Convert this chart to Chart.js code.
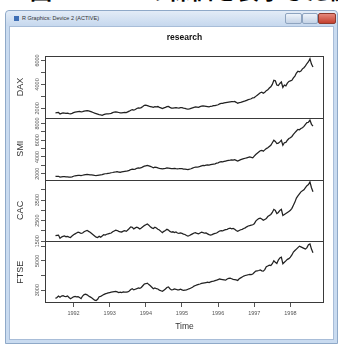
<!DOCTYPE html>
<html>
<head>
<meta charset="utf-8">
<script src="https://cdn.jsdelivr.net/npm/chart.js@4"></script>
<style>
  html, body { margin: 0; padding: 0; background: #fff; }
  body { width: 338px; height: 344px; position: relative; overflow: hidden; font-family: "Liberation Sans", Arial, sans-serif; }
  #caption { position: absolute; left: 30px; top: -27px; font: bold 22px "Noto Sans CJK JP", sans-serif; white-space: nowrap; color: #000; letter-spacing: 1px; }
  #win { position: absolute; left: 5px; top: 10px; width: 333px; height: 334px; box-sizing: border-box;
         background: #c9dbf0; border: 1px solid #8fa9c8; border-radius: 4px 4px 0 0; }
  #bar { position: absolute; left: 0; top: 0; right: 0; height: 15px; background: linear-gradient(#e3ecf7, #c6d8ee); border-radius: 4px 4px 0 0; }
  #ico { position: absolute; left: 8px; top: 5px; width: 5px; height: 5px; background: #3f6fb5; }
  #wtitle { position: absolute; left: 16px; top: 4px; font-size: 5.5px; color: #333; white-space: nowrap; }
  .btn { position: absolute; top: 2px; height: 9px; border: 1px solid #8ea4c0; border-radius: 2px; background: linear-gradient(#eef3fa, #c4d3e6); }
  #bmin { left: 279px; width: 15px; }
  #bmax { left: 296px; width: 14px; }
  #bclose { left: 312px; width: 16px; background: linear-gradient(#e5887c, #c4402f); border-color: #8d3a2e; }
  #client { position: absolute; left: 3px; top: 15px; right: 3px; bottom: 3px; background: #fff; border: 1px solid #a8bdd8; }
  #c { position: absolute; left: 0; top: 0; }
</style>
</head>
<body>
<div id="caption">図３　４つの株価を表示した例</div>
<div id="win">
  <div id="bar"><span id="ico"></span><span id="wtitle">R Graphics: Device 2 (ACTIVE)</span>
    <span class="btn" id="bmin"></span><span class="btn" id="bmax"></span><span class="btn" id="bclose"></span></div>
  <div id="client"></div>
</div>
<canvas id="c" width="338" height="344"></canvas>
<script>
// EuStockMarkets at about two points per month (Jul 1991 - Aug 1998)
const START = 1991.5;
const FREQ = 24;
const PANELS = ['DAX', 'SMI', 'CAC', 'FTSE'];
const TITLE = 'research';
const XLAB = 'Time';
const YEARS = [1992, 1993, 1994, 1995, 1996, 1997, 1998];

const DAX = [
  1628,1640,1650,1520,1580,1610,1600,1570,1590,1560,1540,1580,
  1640,1680,1700,1720,1740,1710,1720,1760,1790,1810,1780,1740,1700,1650,1600,1560,1520,1480,1450,1420,1470,1510,1530,1545,
  1560,1580,1640,1690,1700,1680,1650,1620,1610,1640,1660,1640,1700,1760,1840,1880,1850,1900,1980,2040,2020,2060,2150,2250,
  2260,2220,2180,2150,2120,2080,2140,2120,2150,2080,2040,1980,2040,2080,2140,2160,2080,2020,2010,2040,2060,2030,2020,2060,
  2050,2010,2000,1960,1930,1960,2000,2040,2080,2110,2100,2080,2140,2180,2200,2190,2170,2150,2120,2170,2190,2230,2230,2260,
  2300,2370,2420,2410,2450,2480,2500,2520,2540,2560,2550,2570,2500,2420,2470,2500,2540,2580,2620,2670,2720,2760,2800,2880,
  2900,3000,3100,3200,3300,3350,3260,3350,3480,3550,3700,3800,4000,4350,4300,3950,3900,4080,4200,3750,3950,3880,4100,4250,
  4300,4350,4550,4700,4950,5100,5050,5120,5300,5400,5550,5750,5900,6150,5700,5450
];
const SMI = [
  1678,1690,1700,1600,1640,1660,1650,1620,1640,1610,1590,1620,
  1700,1760,1790,1810,1800,1780,1820,1860,1900,1920,1900,1880,1860,1830,1800,1780,1820,1850,1870,1890,1950,2000,2020,2050,
  2080,2120,2150,2200,2220,2250,2200,2180,2230,2260,2280,2300,2350,2400,2500,2550,2520,2560,2650,2700,2680,2720,2820,2900,
  2950,3000,2950,2880,2800,2720,2780,2760,2700,2650,2620,2580,2620,2650,2700,2680,2640,2600,2620,2640,2610,2590,2600,2620,
  2600,2560,2540,2520,2500,2540,2600,2680,2750,2800,2780,2820,2880,2950,3000,2980,3020,3060,3030,3080,3120,3150,3180,3260,
  3300,3400,3450,3420,3480,3520,3560,3600,3620,3650,3620,3680,3600,3520,3600,3680,3750,3800,3850,3900,3950,4000,3950,3900,
  4100,4300,4450,4600,4750,4800,4700,4850,5000,5100,5250,5400,5700,6000,5850,5600,5650,5800,6000,5400,5700,5750,6000,6200,
  6300,6450,6700,6900,7100,7300,7250,7400,7500,7650,7900,8100,8150,8400,7900,7700
];
const CAC = [
  1773,1790,1800,1640,1700,1740,1760,1720,1740,1700,1680,1760,
  1820,1860,1900,1940,1920,1880,1900,1960,2000,2030,1980,1940,1880,1820,1760,1700,1680,1740,1700,1760,1820,1800,1840,1860,
  1880,1900,1960,2000,2040,2020,1980,1960,1950,1990,2010,1980,2050,2120,2200,2180,2100,2150,2180,2150,2100,2140,2200,2260,
  2300,2340,2280,2200,2150,2120,2180,2140,2080,2050,1980,1920,1980,2020,2080,2040,1980,1940,1960,1920,1950,1900,1880,1900,
  1880,1850,1830,1780,1750,1780,1820,1860,1900,1920,1880,1860,1900,1940,1920,1890,1900,1860,1820,1800,1820,1860,1880,1900,
  1950,2000,2020,2000,2040,2060,2080,2120,2140,2100,2120,2080,2020,1980,2020,2060,2080,2120,2150,2200,2240,2260,2280,2300,
  2350,2480,2550,2600,2620,2580,2520,2560,2600,2700,2750,2800,2900,3050,3000,2850,2900,3000,3050,2750,2800,2850,2900,2950,
  3000,3100,3250,3400,3600,3700,3800,3900,3950,4000,4100,4200,4250,4380,4100,3900
];
const FTSE = [
  2443,2500,2600,2520,2600,2620,2580,2560,2600,2500,2420,2480,
  2550,2570,2540,2560,2500,2420,2600,2700,2720,2680,2600,2540,2480,2400,2320,2290,2380,2550,2580,2640,2700,2750,2780,2820,
  2840,2860,2880,2900,2920,2880,2840,2860,2840,2880,2870,2860,2880,2940,3040,3100,3020,3060,3100,3150,3120,3180,3300,3420,
  3440,3480,3380,3300,3200,3100,3150,3100,3080,3000,2960,2920,3000,3080,3180,3220,3100,3020,3040,3080,3060,3020,3020,3060,
  3020,2980,3000,3020,3060,3100,3150,3200,3280,3320,3360,3400,3420,3460,3480,3500,3520,3540,3520,3560,3600,3620,3650,3680,
  3720,3760,3740,3720,3700,3680,3760,3800,3820,3780,3740,3720,3700,3660,3780,3840,3900,3960,4000,4020,4050,4080,4060,4100,
  4200,4300,4320,4340,4380,4320,4300,4400,4600,4650,4700,4680,4800,5000,4900,4820,5050,5200,5250,4800,4900,5000,5100,5150,
  5250,5400,5600,5700,5800,5900,6000,5950,5900,5850,5800,5900,6100,6150,5800,5550
];

// axis limits (R pads the data range by 4%) and tick marks
const X_RANGE = [1991.21, 1998.93];
const Y_RANGES = [[1211, 6377], [1314, 8685], [1500, 4499], [2125, 6335]];
const Y_TICKS = [
  [2000, 3000, 4000, 5000, 6000],
  [2000, 3000, 4000, 5000, 6000, 7000, 8000],
  [1500, 2000, 2500, 3000, 3500, 4000],
  [3000, 4000, 5000, 6000]
];
const Y_LABELS = [
  [2000, 4000, 6000],
  [2000, 4000, 6000, 8000],
  [1500, 2500, 3500],
  [3000, 5000]
];
const SERIES = [DAX, SMI, CAC, FTSE];

const FONT = '"Liberation Sans", Arial, sans-serif';
const INK = '#222';
const GREY = '#555';

const toPoints = vals => vals.map((v, i) => ({ x: START + i / FREQ, y: v }));

const datasets = SERIES.map((vals, i) => ({
  label: PANELS[i],
  data: toPoints(vals),
  yAxisID: 'y' + i,
  borderColor: INK,
  borderWidth: 1.25,
  pointRadius: 0,
  tension: 0,
  fill: false
}));

const scales = {
  x: {
    type: 'linear', position: 'bottom', min: X_RANGE[0], max: X_RANGE[1],
    afterBuildTicks: s => { s.ticks = YEARS.map(v => ({ value: v })); },
    ticks: { display: false },
    grid: { display: true, drawOnChartArea: false, drawTicks: true, tickLength: 4, color: GREY },
    border: { display: false }
  }
};
PANELS.forEach((name, i) => {
  scales['y' + i] = {
    type: 'linear', position: 'left', stack: 'panels', stackWeight: 1, weight: PANELS.length - i,
    min: Y_RANGES[i][0], max: Y_RANGES[i][1],
    afterBuildTicks: s => { s.ticks = Y_TICKS[i].map(v => ({ value: v })); },
    ticks: { display: false },
    grid: { display: true, drawOnChartArea: false, drawTicks: true, tickLength: 4, color: GREY },
    border: { display: false }
  };
});

// box, panel separators and all the R-style text
const rFrame = {
  id: 'rFrame',
  afterDraw(chart) {
    const { ctx, chartArea: a } = chart;
    const rot = (txt, x, y, font, color) => {
      ctx.save();
      ctx.translate(x, y);
      ctx.rotate(-Math.PI / 2);
      ctx.font = font; ctx.fillStyle = color;
      ctx.textAlign = 'center'; ctx.textBaseline = 'middle';
      ctx.fillText(txt, 0, 0);
      ctx.restore();
    };
    ctx.save();
    ctx.strokeStyle = '#3a3a3a';
    ctx.lineWidth = 1;
    ctx.strokeRect(Math.round(a.left) + .5, Math.round(a.top) + .5, Math.round(a.width) - 1, Math.round(a.height) - 1);
    PANELS.forEach((name, i) => {
      const s = chart.scales['y' + i];
      if (i < PANELS.length - 1) {
        const yb = Math.round(s.bottom) + .5;
        ctx.beginPath(); ctx.moveTo(a.left, yb); ctx.lineTo(a.right, yb); ctx.stroke();
      }
      Y_LABELS[i].forEach(v => rot(String(v), 37, s.getPixelForValue(v), '5.5px ' + FONT, GREY));
      rot(name, 21, (s.top + s.bottom) / 2, '9px ' + FONT, '#333');
    });
    const x = chart.scales.x;
    ctx.font = '5.5px ' + FONT; ctx.fillStyle = GREY;
    ctx.textAlign = 'center'; ctx.textBaseline = 'middle';
    YEARS.forEach(v => ctx.fillText(String(v), x.getPixelForValue(v), 313));
    const mid = (a.left + a.right) / 2;
    ctx.font = '8.5px ' + FONT; ctx.fillStyle = '#333';
    ctx.fillText(XLAB, mid, 327);
    ctx.font = 'bold 8.5px ' + FONT; ctx.fillStyle = '#111';
    ctx.fillText(TITLE, mid, 37.5);
    ctx.restore();
  }
};

new Chart(document.getElementById('c').getContext('2d'), {
  type: 'line',
  data: { datasets },
  options: {
    responsive: false,
    animation: false,
    devicePixelRatio: 1,
    layout: { padding: { left: 41, top: 56, right: 14, bottom: 37 } },
    plugins: { legend: { display: false }, tooltip: { enabled: false } },
    scales
  },
  plugins: [rFrame]
});
</script>
</body>
</html>
